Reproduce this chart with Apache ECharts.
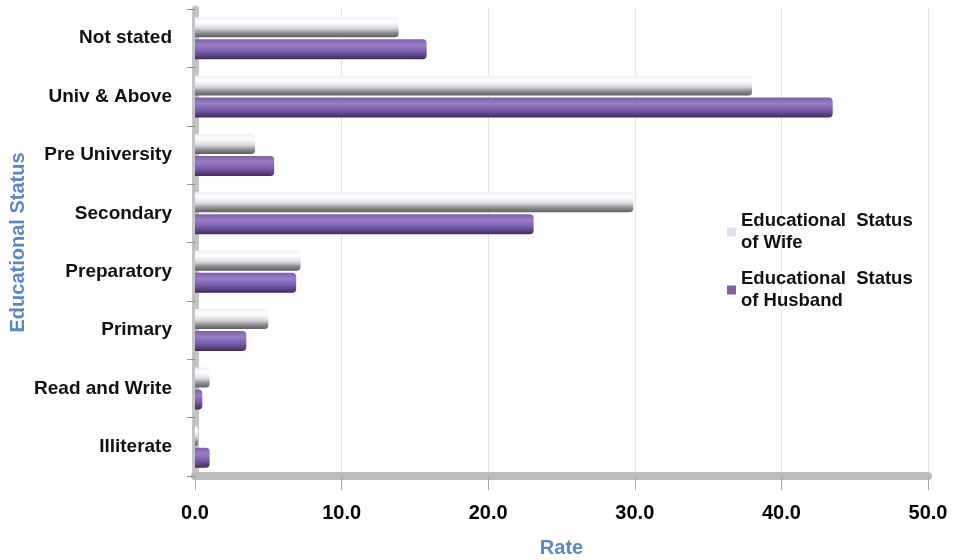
<!DOCTYPE html>
<html><head><meta charset="utf-8">
<script src="https://cdn.jsdelivr.net/npm/echarts@6/dist/echarts.min.js"></script>
<style>html,body{margin:0;padding:0;background:#fff}#c{width:956px;height:560px}</style>
</head><body><div id="c"></div>
<script>
const categories = ["Not stated","Univ & Above","Pre University","Secondary","Preparatory","Primary","Read and Write","Illiterate"];
const wifeValues = [13.9, 38.0, 4.1, 29.9, 7.2, 5.0, 1.0, 0.2];
const husbandValues = [15.8, 43.5, 5.4, 23.1, 6.9, 3.5, 0.5, 1.0];
const xTicks = [0, 10, 20, 30, 40, 50];
const seriesNames = ["Educational  Status\nof Wife", "Educational  Status\nof Husband"];

const wifeGrad = new echarts.graphic.LinearGradient(0,0,0,1,[
  {offset:0,color:'#f0eef4'},{offset:0.25,color:'#ffffff'},{offset:0.55,color:'#dcdadf'},{offset:0.8,color:'#8a898e'},{offset:1,color:'#5e5d62'}]);
const husbandGrad = new echarts.graphic.LinearGradient(0,0,0,1,[
  {offset:0,color:'#7d61a6'},{offset:0.3,color:'#9a7cc8'},{offset:0.6,color:'#7c5fae'},{offset:0.85,color:'#5a3f80'},{offset:1,color:'#3e2a5a'}]);

const font = 'Liberation Sans, Arial, sans-serif';
const chart = echarts.init(document.getElementById('c'));
chart.setOption({
  animation:false,
  grid:{left:195,right:28,top:9,bottom:84,outerBoundsMode:'none',containLabel:false},
  legend:{
    orient:'vertical', left:722, top:205, itemGap:14,
    itemWidth:9, itemHeight:9, icon:'rect',
    data:[{name:seriesNames[0],itemStyle:{color:'#e4deec'}},{name:seriesNames[1],itemStyle:{color:'#8064a2'}}],
    textStyle:{fontFamily:font,fontWeight:'bold',fontSize:18.5,color:'#111',lineHeight:22}
  },
  xAxis:{
    type:'value', min:0, max:50, interval:10,
    name:'Rate', nameLocation:'middle', nameGap:62, nameMoveOverlap:false,
    nameTextStyle:{color:'#5b87c5',fontFamily:font,fontWeight:'bold',fontSize:20},
    axisLine:{show:true,lineStyle:{color:'#bdbdbd',width:8}},
    axisTick:{show:true,length:14,lineStyle:{color:'#a8a8a8'}},
    axisLabel:{margin:27,formatter:v=>v.toFixed(1),color:'#000',fontFamily:font,fontWeight:'bold',fontSize:20},
    splitLine:{show:true,lineStyle:{color:'#e6e4d6',width:1}}
  },
  yAxis:{
    type:'category', data:categories, inverse:true,
    name:'Educational Status', nameLocation:'middle', nameGap:167, nameRotate:90, nameMoveOverlap:false,
    nameTextStyle:{color:'#5b87c5',fontFamily:font,fontWeight:'bold',fontSize:20},
    axisLine:{show:true,lineStyle:{color:'#c4c4c4',width:7}},
    axisTick:{show:true,length:8,lineStyle:{color:'#909090'}},
    axisLabel:{margin:23,color:'#111',fontFamily:font,fontWeight:'bold',fontSize:19}
  },
  series:[
    {name:seriesNames[0],type:'bar',data:wifeValues,barWidth:20,barGap:'10%',
     itemStyle:{color:wifeGrad,borderRadius:[0,4,4,0]}},
    {name:seriesNames[1],type:'bar',data:husbandValues,barWidth:20,barGap:'10%',
     itemStyle:{color:husbandGrad,borderRadius:[0,4,4,0]}}
  ]
});
</script></body></html>
